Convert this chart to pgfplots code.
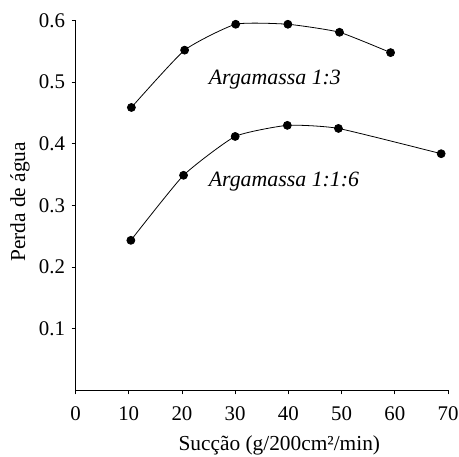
\documentclass[border=0pt]{standalone}
\usepackage{pgfplots}
\pgfplotsset{compat=1.18}
\usepackage{fontspec}
\setmainfont{Liberation Serif}
\begin{document}
\begin{tikzpicture}
\begin{axis}[
  name=ax,
  scale only axis,
  width=375bp, height=372.3bp,
  xmin=0, xmax=70, ymin=0, ymax=0.6,
  axis x line*=bottom, axis y line*=left,
  axis line style={line width=0.9bp},
  xtick={0,10,...,70},
  ytick={0.1,0.2,0.3,0.4,0.5,0.6},
  tick align=outside,
  major tick length=4bp,
  tick style={line width=0.9bp, black},
  yticklabel style={/pgf/number format/fixed, /pgf/number format/precision=1, /pgf/number format/fixed zerofill, xshift=-3bp},
  /pgf/number format/assume math mode=true,
  ticklabel style={font=\fontsize{21bp}{23bp}\selectfont},
  xticklabel style={yshift=-9bp},
  xlabel={Sucção (g/200cm²/min)},
  ylabel={Perda de água},
  label style={font=\fontsize{21.5bp}{23bp}\selectfont},
  xlabel style={at={(axis description cs:0.547,-0.1477)}, anchor=center},
  ylabel style={at={(axis description cs:-0.149,0.51)}, anchor=center},
  clip=false,
]
\addplot[black, line width=0.8bp, smooth, tension=0.3, mark=*, mark size=4bp, mark options={solid, fill=black}]
  coordinates {(10.5,0.459) (20.5,0.552) (30.1,0.594) (39.9,0.594) (49.6,0.581) (59.2,0.548)};
\addplot[black, line width=0.8bp, smooth, tension=0.3, mark=*, mark size=4bp, mark options={solid, fill=black}]
  coordinates {(10.4,0.2435) (20.3,0.349) (30.0,0.412) (39.8,0.430) (49.4,0.425) (68.7,0.384)};
\node[anchor=west, inner sep=0pt, font=\fontsize{22bp}{24bp}\selectfont\itshape] at (axis cs:25,0.505) {Argamassa 1:3};
\node[anchor=west, inner sep=0pt, font=\fontsize{22bp}{24bp}\selectfont\itshape] at (axis cs:25,0.339) {Argamassa 1:1:6};
\end{axis}
\pgfresetboundingbox
\path[use as bounding box] ([shift={(-76bp,-66bp)}]ax.south west) rectangle ([shift={(11bp,20.7bp)}]ax.north east);
\end{tikzpicture}
\end{document}
